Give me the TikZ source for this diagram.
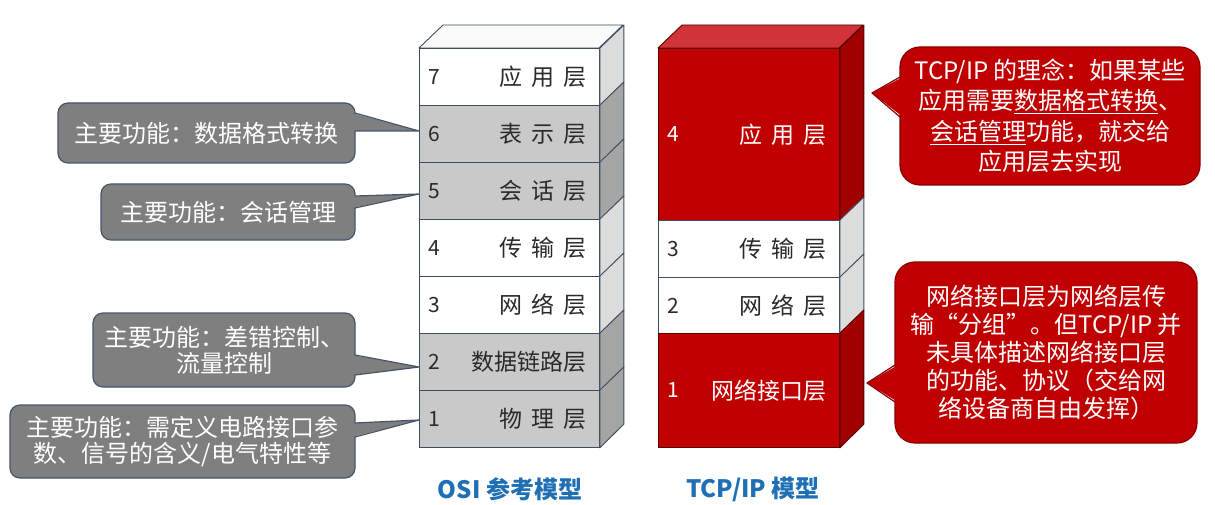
\documentclass[tikz,border=0pt]{standalone}
\usepackage{fontspec}
\setmainfont{Noto Sans CJK SC}
\definecolor{lineC}{HTML}{3E4C60}
\definecolor{grayF}{HTML}{C9C9C9}
\definecolor{graySide}{HTML}{A5A5A5}
\definecolor{whiteSide}{HTML}{DCDCDC}
\definecolor{topW}{HTML}{FAFAFA}
\definecolor{redF}{HTML}{C00000}
\definecolor{redSide}{HTML}{A00000}
\definecolor{redTop}{HTML}{D13438}
\definecolor{redLine}{HTML}{5A0000}
\definecolor{callG}{HTML}{7F7F7F}
\definecolor{callGLine}{HTML}{46546A}
\definecolor{callRLine}{HTML}{8A0000}
\definecolor{titleB}{HTML}{1F6FB5}
\definecolor{txtD}{HTML}{2A2A2A}
\newcommand\layfont{\fontsize{23}{27}\selectfont}
\newcommand\numfont{\fontsize{21}{25}\selectfont}
\newcommand\calfont{\fontsize{24}{26}\selectfont}
\newcommand\lsp{\hspace{9pt}}
\newcommand\stackLayer[9]{%
  \node[layer, #5, minimum height=#4pt] (#1) at (#2,#3) {};
  \filldraw[edge, #6] (#1.north east) -- ++(24,-23) -- ++(0,#4) -- (#1.south east) -- cycle;
  \node[anchor=west, text=#7, font=\numfont, inner sep=0pt] at ([xshift=9pt]#1.west) {#8};
  \node[anchor=east, text=#7, font=\layfont, inner sep=0pt] at ([xshift=-13pt]#1.east) {#9};
}
\begin{document}
\begin{tikzpicture}[x=1pt,y=-1pt,
  edge/.style={line width=0.9pt, line join=round},
  layer/.style={draw, line width=0.9pt, minimum width=180pt, anchor=north west, inner sep=0pt},
  osiW/.style={fill=white, draw=lineC},
  osiG/.style={fill=grayF, draw=lineC},
  sideW/.style={fill=whiteSide, draw=lineC},
  sideG/.style={fill=graySide, draw=lineC},
  tcpR/.style={fill=redF, draw=redLine},
  sideR/.style={fill=redSide, draw=redLine},
  callbox/.style={draw=callGLine, fill=callG, line width=1.2pt, rounded corners=10pt, text=white, font=\calfont, align=center, inner sep=0pt},
  redbox/.style={draw=callRLine, fill=redF, line width=1.2pt, rounded corners=20pt, text=white, align=center, inner sep=0pt},
  title/.style={font=\fontsize{24}{28}\selectfont\bfseries, text=titleB}
]
\useasboundingbox (0,0) rectangle (1215,505);

% ---------- OSI stack ----------
\filldraw[edge, fill=topW, draw=lineC] (419,48) -- ++(24,-23) -- ++(180,0) -- (599,48) -- cycle;
\stackLayer{o7}{419}{48}{57}{osiW}{sideW}{txtD}{7}{应\lsp 用\lsp 层}
\stackLayer{o6}{419}{105}{57}{osiG}{sideG}{txtD}{6}{表\lsp 示\lsp 层}
\stackLayer{o5}{419}{162}{57}{osiG}{sideG}{txtD}{5}{会\lsp 话\lsp 层}
\stackLayer{o4}{419}{219}{57}{osiW}{sideW}{txtD}{4}{传\lsp 输\lsp 层}
\stackLayer{o3}{419}{276}{57}{osiW}{sideW}{txtD}{3}{网\lsp 络\lsp 层}
\stackLayer{o2}{419}{333}{57}{osiG}{sideG}{txtD}{2}{数据链路层}
\stackLayer{o1}{419}{390}{57}{osiG}{sideG}{txtD}{1}{物\lsp 理\lsp 层}

% ---------- TCP/IP stack ----------
\filldraw[edge, fill=redTop, draw=redLine] (658,48) -- ++(24,-23) -- ++(181,0) -- (839,48) -- cycle;
\stackLayer{t4}{658}{48}{172}{tcpR, minimum width=181pt}{sideR}{white}{4}{应\lsp 用\lsp 层}
\stackLayer{t3}{658}{220}{57}{osiW, minimum width=181pt}{sideW}{txtD}{3}{传\lsp 输\lsp 层}
\stackLayer{t2}{658}{277}{56}{osiW, minimum width=181pt}{sideW}{txtD}{2}{网\lsp 络\lsp 层}
\stackLayer{t1}{658}{333}{114}{tcpR, minimum width=181pt}{sideR}{white}{1}{网络接口层}

% ---------- titles ----------
\node[title] (osiT) at (510,489) {OSI 参考模型};
\node[title] (tcpT) at (753,489) {TCP/IP 模型};

% ---------- left callouts ----------
\coordinate (p6) at (419,131);
\coordinate (p5) at (419,194);
\coordinate (p2) at (419,367);
\coordinate (p1) at (419,420);

\node[callbox, minimum width=297pt, minimum height=60pt] (c6) at (206.5,133) {主要功能：数据格式转换};
\fill[callG] (352,113) -- (p6) -- (352,131) -- cycle;
\draw[callGLine, line width=1.2pt, line join=round] (355,113) -- (p6) -- (355,131);

\node[callbox, minimum width=254pt, minimum height=56pt] (c5) at (228,212) {主要功能：会话管理};
\fill[callG] (352,196) -- (p5) -- (352,208) -- cycle;
\draw[callGLine, line width=1.2pt, line join=round] (355,196) -- (p5) -- (355,208);

\node[callbox, minimum width=262pt, minimum height=74pt] (c2) at (224,350) {主要功能：差错控制、\\流量控制};
\fill[callG] (352,355) -- (p2) -- (352,375) -- cycle;
\draw[callGLine, line width=1.2pt, line join=round] (355,355) -- (p2) -- (355,375);

\node[callbox, minimum width=345pt, minimum height=73pt] (c1) at (182.5,441.5) {主要功能：需定义电路接口参\\数、信号的含义/电气特性等};
\fill[callG] (352,423) -- (p1) -- (352,437) -- cycle;
\draw[callGLine, line width=1.2pt, line join=round] (355,423) -- (p1) -- (355,437);

% ---------- right callouts ----------
\coordinate (pa) at (872,93);
\coordinate (pb) at (867,383);

\node[redbox, minimum width=300pt, minimum height=138pt, font=\fontsize{24}{30.5}\selectfont] (ca) at (1050,116)
  {TCP/IP 的理念：如果某些\\应用需要\underline{数据格式转换}、\\\underline{会话管理}功能，就交给\\应用层去实现};
\fill[redF] (903,77) -- (pa) -- (903,117) -- cycle;
\draw[callRLine, line width=1.2pt, line join=round] (900,77) -- (pa) -- (900,117);

\node[redbox, minimum width=302pt, minimum height=181pt, font=\fontsize{24}{28}\selectfont] (cb) at (1046,352.5)
  {网络接口层为网络层传\\输“分组”。但TCP/IP 并\\未具体描述网络接口层\\的功能、协议（交给网\\络设备商自由发挥）};
\fill[redF] (898,365) -- (pb) -- (898,402) -- cycle;
\draw[callRLine, line width=1.2pt, line join=round] (895,365) -- (pb) -- (895,402);
\end{tikzpicture}
\end{document}
